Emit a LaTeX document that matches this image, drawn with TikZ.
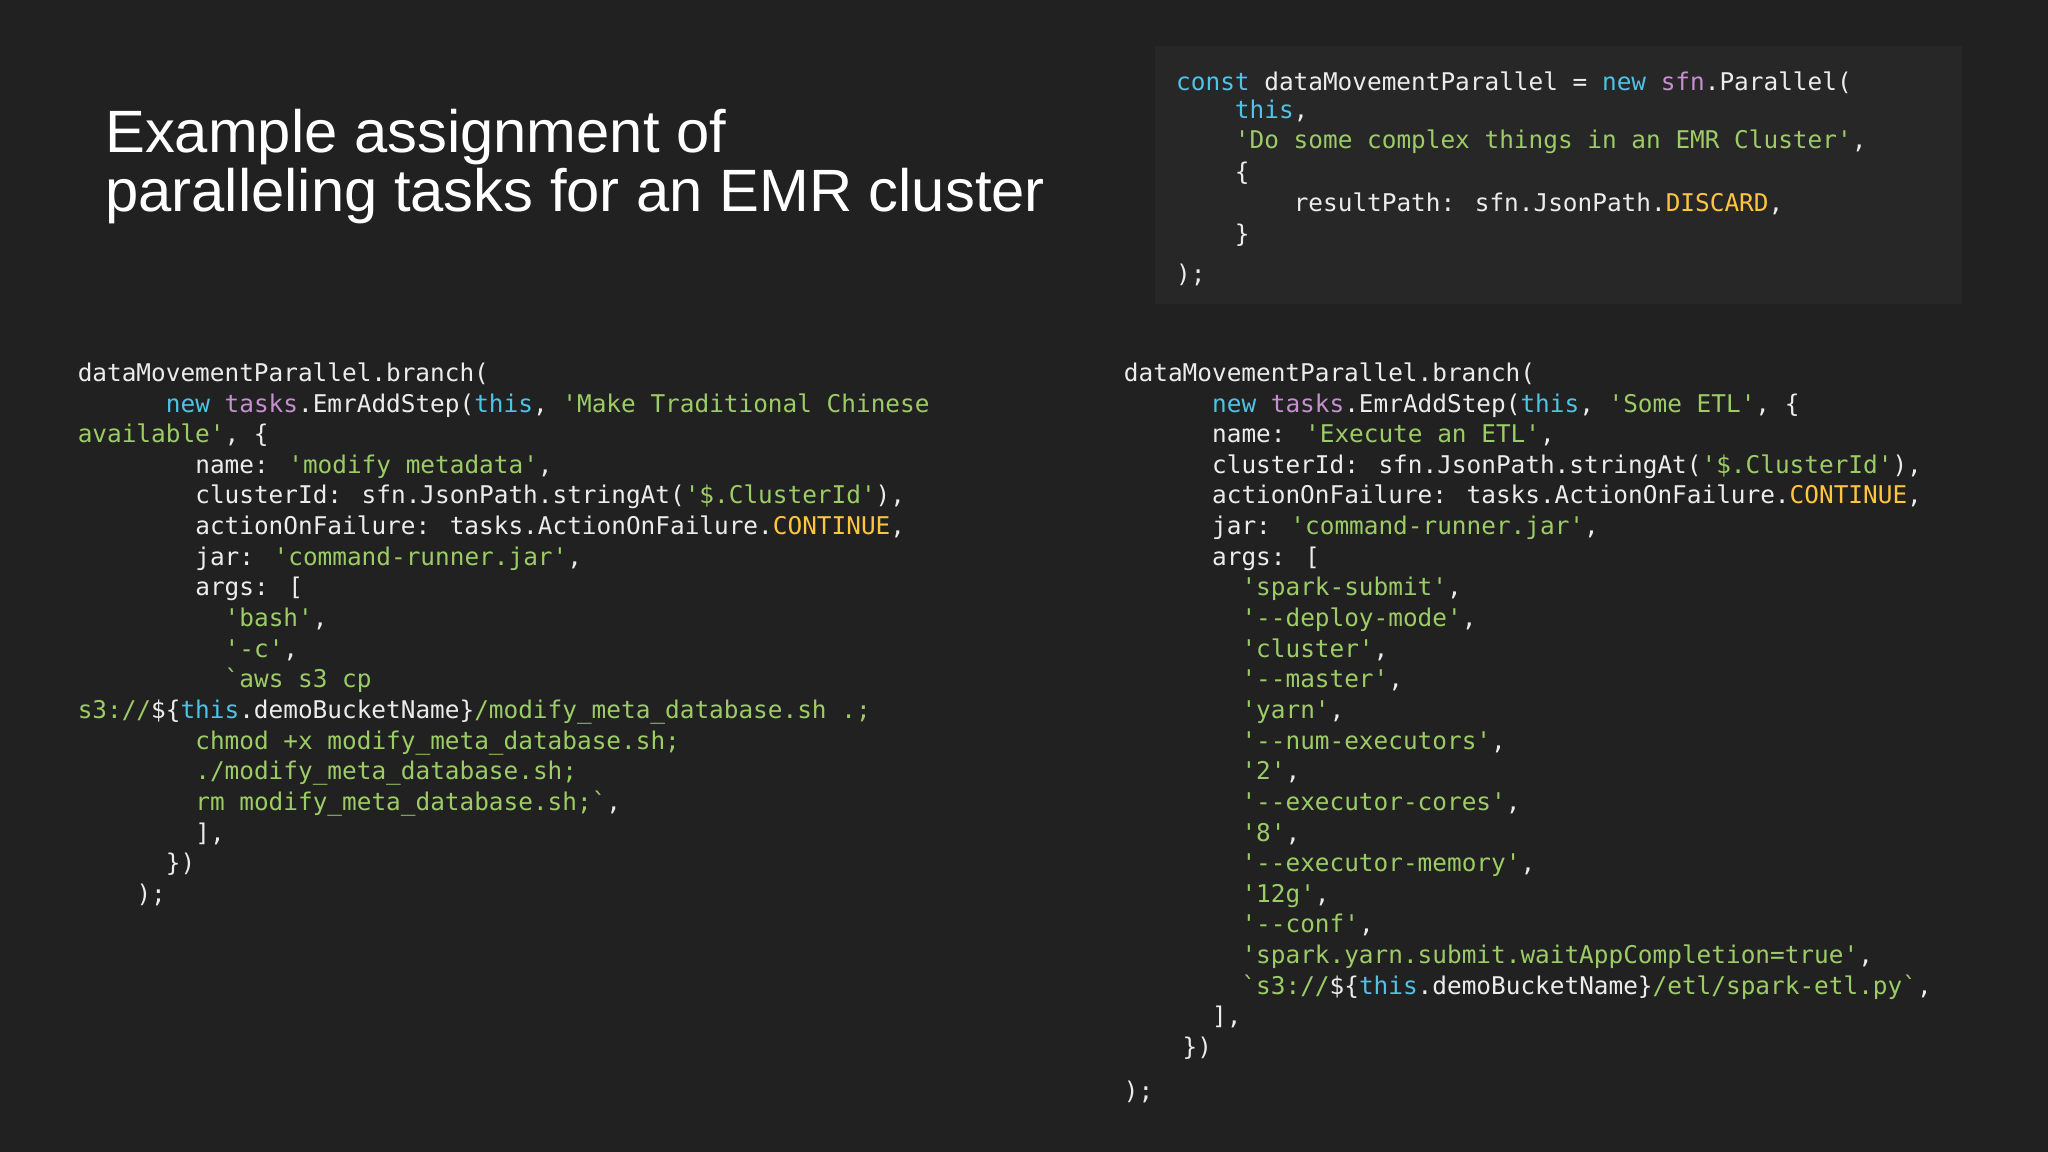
\documentclass[tikz,border=0pt]{standalone}
\usepackage{fontspec}
\setmainfont{Liberation Sans}
\newfontfamily\cmono{DejaVu Sans Mono}
\definecolor{bg}{HTML}{212121}
\definecolor{boxbg}{HTML}{272727}
\definecolor{fg}{HTML}{ECECEC}
\definecolor{kw}{HTML}{4DC3E6}
\definecolor{ob}{HTML}{C58FD0}
\definecolor{st}{HTML}{9CCC65}
\definecolor{yl}{HTML}{FFC53D}
\newcommand\K[1]{\textcolor{kw}{#1}}
\newcommand\T[1]{\textcolor{ob}{#1}}
\newcommand\Sg[1]{\textcolor{st}{#1}}
\newcommand\Y[1]{\textcolor{yl}{#1}}
\tikzset{code/.style={anchor=base west,inner sep=0pt,text=fg,font=\cmono\fontsize{6.94pt}{8.9pt}\selectfont},
title/.style={anchor=base west,inner sep=0pt,text=white,font=\fontsize{17pt}{20pt}\selectfont}}
\newcommand\cl[4]{\node[code] at ({#1+#2*11.25},{292+#3*23.46}) {#4};}
\begin{document}
\begin{tikzpicture}[x=0.01306cm,y=-0.01306cm]
\fill[bg] (0,0) rectangle (1568,882);
\useasboundingbox (0,0) rectangle (1568,882);
\fill[boxbg] (884,35) rectangle (1502,233);
\node[title] (t1) at (80,117) {Example assignment of};
\node[title] (t2) at (80,162) {paralleling tasks for an EMR cluster};
% top box
\node[code] (b1) at (900,69) {\K{const} dataMovementParallel = \K{new} \T{sfn}.Parallel(};
\node[code] (b2) at (945,91) {\K{this},};
\node[code] (b3) at (945,114) {\Sg{'Do some complex things in an EMR Cluster'},};
\node[code] (b4) at (945,138) {\{};
\node[code] (b5) at (990,162) {resultPath: sfn.JsonPath.\Y{DISCARD},};
\node[code] (b6) at (945,186) {\}};
\node[code] (b7) at (900,216) {);};
% left block
\cl{59}{0}{0}{dataMovementParallel.branch(}
\cl{59}{6}{1}{\K{new} \T{tasks}.EmrAddStep(\K{this}, \Sg{'Make Traditional Chinese}}
\cl{59}{0}{2}{\Sg{available'}, \{}
\cl{59}{8}{3}{name: \Sg{'modify metadata'},}
\cl{59}{8}{4}{clusterId: sfn.JsonPath.stringAt(\Sg{'\$.ClusterId'}),}
\cl{59}{8}{5}{actionOnFailure: tasks.ActionOnFailure.\Y{CONTINUE},}
\cl{59}{8}{6}{jar: \Sg{'command-runner.jar'},}
\cl{59}{8}{7}{args: [}
\cl{59}{10}{8}{\Sg{'bash'},}
\cl{59}{10}{9}{\Sg{'-c'},}
\cl{59}{10}{10}{\Sg{`aws s3 cp}}
\cl{59}{0}{11}{\Sg{s3://}\$\{\K{this}.demoBucketName\}\Sg{/modify\_meta\_database.sh .;}}
\cl{59}{8}{12}{\Sg{chmod +x modify\_meta\_database.sh;}}
\cl{59}{8}{13}{\Sg{./modify\_meta\_database.sh;}}
\cl{59}{8}{14}{\Sg{rm modify\_meta\_database.sh;`},}
\cl{59}{8}{15}{],}
\cl{59}{6}{16}{\})}
\cl{59}{4}{17}{);}
% right block
\cl{860}{0}{0}{dataMovementParallel.branch(}
\cl{860}{6}{1}{\K{new} \T{tasks}.EmrAddStep(\K{this}, \Sg{'Some ETL'}, \{}
\cl{860}{6}{2}{name: \Sg{'Execute an ETL'},}
\cl{860}{6}{3}{clusterId: sfn.JsonPath.stringAt(\Sg{'\$.ClusterId'}),}
\cl{860}{6}{4}{actionOnFailure: tasks.ActionOnFailure.\Y{CONTINUE},}
\cl{860}{6}{5}{jar: \Sg{'command-runner.jar'},}
\cl{860}{6}{6}{args: [}
\cl{860}{8}{7}{\Sg{'spark-submit'},}
\cl{860}{8}{8}{\Sg{'--deploy-mode'},}
\cl{860}{8}{9}{\Sg{'cluster'},}
\cl{860}{8}{10}{\Sg{'--master'},}
\cl{860}{8}{11}{\Sg{'yarn'},}
\cl{860}{8}{12}{\Sg{'--num-executors'},}
\cl{860}{8}{13}{\Sg{'2'},}
\cl{860}{8}{14}{\Sg{'--executor-cores'},}
\cl{860}{8}{15}{\Sg{'8'},}
\cl{860}{8}{16}{\Sg{'--executor-memory'},}
\cl{860}{8}{17}{\Sg{'12g'},}
\cl{860}{8}{18}{\Sg{'--conf'},}
\cl{860}{8}{19}{\Sg{'spark.yarn.submit.waitAppCompletion=true'},}
\cl{860}{8}{20}{\Sg{`s3://}\$\{\K{this}.demoBucketName\}\Sg{/etl/spark-etl.py`},}
\cl{860}{6}{21}{],}
\cl{860}{4}{22}{\})}
\node[code] (r23) at (860,842) {);};
\end{tikzpicture}
\end{document}
